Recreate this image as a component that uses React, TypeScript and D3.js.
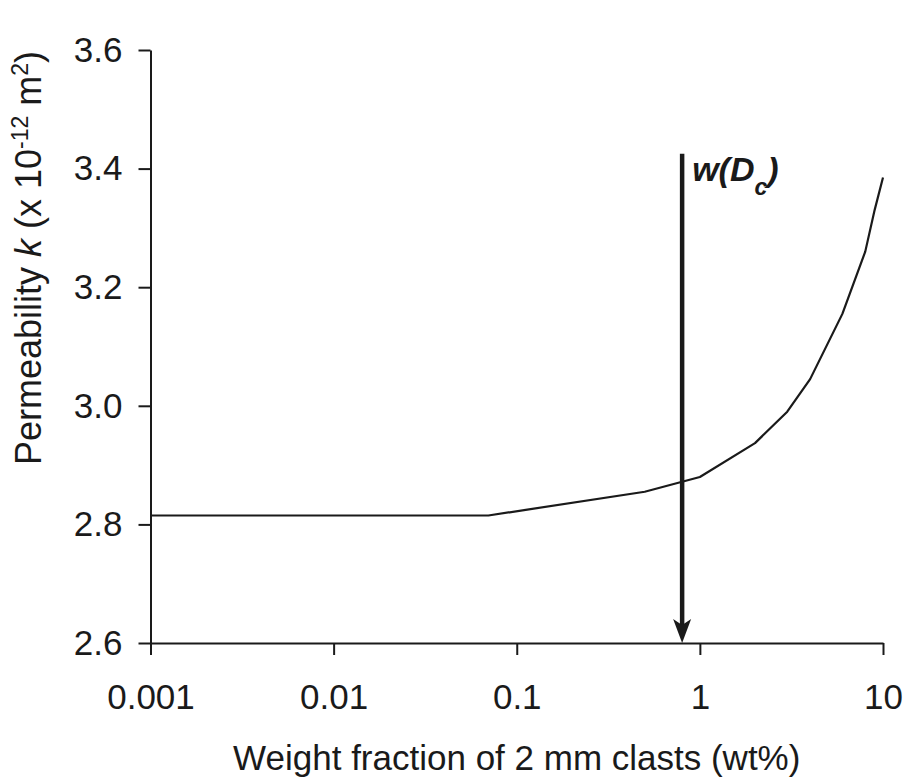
import * as d3 from "d3";
import React, { useEffect, useRef } from "react";

// data
const wtFraction = [0.001, 0.007, 0.07, 0.5, 1, 2, 3, 4, 6, 8, 9, 10];
const permeability = [2.815, 2.815, 2.815, 2.855, 2.88, 2.937, 2.99, 3.045, 3.155, 3.26, 3.33, 3.385];
const xTicks = [0.001, 0.01, 0.1, 1, 10];
const xTickLabels = ["0.001", "0.01", "0.1", "1", "10"];
const yTicks = [2.6, 2.8, 3.0, 3.2, 3.4, 3.6];
const criticalFraction = 0.8;
const arrowTop = 3.425;

const FONT = "'Liberation Sans', Arial, Helvetica, sans-serif";
const INK = "#1a1a1a";

const App = () => {
  const ref = useRef<SVGSVGElement | null>(null);

  useEffect(() => {
    const props = { width: 905, height: 778, left: 150.5, right: 883, top: 50, bottom: 643 };

    const svg = d3.select(ref.current);
    svg.selectAll("*").remove();

    // Scales
    const xScale = d3.scaleLog().domain([0.001, 10]).range([props.left, props.right]);
    const yScale = d3.scaleLinear().domain([2.6, 3.6]).range([props.bottom, props.top]);

    // Axis
    const xAxis = d3
      .axisBottom(xScale)
      .tickValues(xTicks)
      .tickSize(12)
      .tickSizeOuter(0)
      .tickPadding(29)
      .tickFormat((d, i) => xTickLabels[i]);
    const yAxis = d3
      .axisLeft(yScale)
      .tickValues(yTicks)
      .tickSize(12)
      .tickSizeOuter(0)
      .tickPadding(16)
      .tickFormat(d3.format(".1f"));

    const gx = svg.append("g").attr("transform", `translate(0, ${props.bottom})`).call(xAxis);
    const gy = svg.append("g").attr("transform", `translate(${props.left}, 0)`).call(yAxis);

    [gx, gy].forEach((g) => {
      g.select(".domain").attr("stroke", INK).attr("stroke-width", 2);
      g.selectAll(".tick line").attr("stroke", INK).attr("stroke-width", 2);
      g.selectAll(".tick text")
        .attr("fill", INK)
        .style("font-family", FONT)
        .style("font-size", "35px");
    });

    // the curve
    const line = d3
      .line<number>()
      .x((d, i) => xScale(wtFraction[i]))
      .y((d) => yScale(d));

    svg
      .append("path")
      .datum(permeability)
      .attr("d", line)
      .attr("fill", "none")
      .attr("stroke", INK)
      .attr("stroke-width", 2.2)
      .attr("stroke-linejoin", "round");

    // w(Dc) arrow
    const ax = xScale(criticalFraction);
    const tipY = yScale(2.6);
    svg
      .append("line")
      .attr("x1", ax)
      .attr("x2", ax)
      .attr("y1", yScale(arrowTop))
      .attr("y2", tipY - 16)
      .attr("stroke", INK)
      .attr("stroke-width", 4.5);
    svg
      .append("path")
      .attr("d", `M${ax},${tipY} L${ax - 9},${tipY - 24} L${ax},${tipY - 18} L${ax + 9},${tipY - 24} Z`)
      .attr("fill", INK);

    const lbl = svg
      .append("text")
      .attr("x", ax + 10)
      .attr("y", yScale(arrowTop) + 27)
      .attr("fill", INK)
      .style("font-family", FONT)
      .style("font-size", "34px")
      .style("font-weight", "bold")
      .style("font-style", "italic");
    lbl.append("tspan").text("w(D");
    lbl.append("tspan").attr("dy", 14).style("font-size", "23px").text("c");
    lbl.append("tspan").attr("dy", -14).text(")");

    // x axis title
    svg
      .append("text")
      .attr("x", (props.left + props.right) / 2)
      .attr("y", 770)
      .attr("text-anchor", "middle")
      .attr("fill", INK)
      .style("font-family", FONT)
      .style("font-size", "35px")
      .text("Weight fraction of 2 mm clasts (wt%)");

    // y axis title
    const yt = svg
      .append("text")
      .attr("transform", `translate(41, 258) rotate(-90)`)
      .attr("text-anchor", "middle")
      .attr("fill", INK)
      .style("font-family", FONT)
      .style("font-size", "36px");
    yt.append("tspan").text("Permeability ");
    yt.append("tspan").style("font-style", "italic").text("k");
    yt.append("tspan").text(" (x 10");
    yt.append("tspan").attr("dy", -13).style("font-size", "23px").text("-12");
    yt.append("tspan").attr("dy", 13).text(" m");
    yt.append("tspan").attr("dy", -13).style("font-size", "23px").text("2");
    yt.append("tspan").attr("dy", 13).text(")");
  }, []);

  return (
    <svg
      ref={ref}
      width={905}
      height={778}
      style={{ position: "absolute", left: 0, top: 0, background: "#fff" }}
    />
  );
};

export default App;
